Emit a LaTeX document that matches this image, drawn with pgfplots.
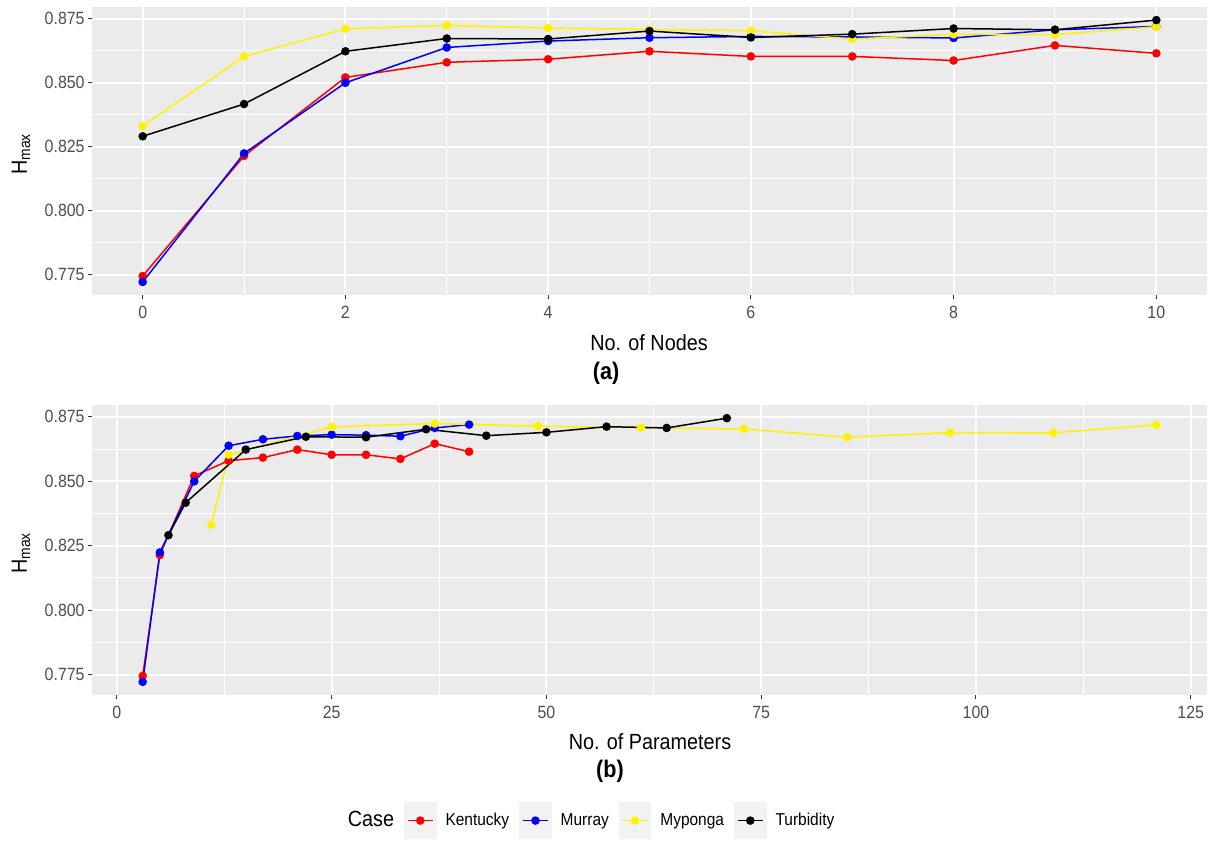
\documentclass[border=0pt]{standalone}
\usepackage{fontspec}
\setmainfont{Liberation Sans}[FakeStretch=0.9]
\usepackage{pgfplots}
\usepackage{pgfplotstable}
\pgfplotsset{compat=1.18}
\definecolor{ggbg}{HTML}{EBEBEB}
\definecolor{ggtick}{HTML}{333333}
\definecolor{gglab}{HTML}{4D4D4D}
\definecolor{ggkey}{HTML}{F2F2F2}

\pgfplotstableread{
x K M My T
0 0.7745 0.7722 0.8331 0.8291
1 0.8214 0.8224 0.8603 0.8417
2 0.8521 0.8500 0.8711 0.8623
3 0.8580 0.8638 0.8724 0.8673
4 0.8592 0.8663 0.8714 0.8671
5 0.8623 0.8676 0.8708 0.8702
6 0.8603 0.8681 0.8703 0.8677
7 0.8603 0.8679 0.8671 0.8690
8 0.8587 0.8675 0.8689 0.8712
9 0.8646 0.8707 0.8688 0.8707
10 0.8615 0.8720 0.8719 0.8745
}\nodes

\pgfplotstableread{
p y
3 0.7745
5 0.8214
9 0.8521
13 0.8580
17 0.8592
21 0.8623
25 0.8603
29 0.8603
33 0.8587
37 0.8646
41 0.8615
}\parK

\pgfplotstableread{
p y
3 0.7722
5 0.8224
9 0.8500
13 0.8638
17 0.8663
21 0.8676
25 0.8681
29 0.8679
33 0.8675
37 0.8707
41 0.8720
}\parM

\pgfplotstableread{
p y
11 0.8331
13 0.8603
25 0.8711
37 0.8724
49 0.8714
61 0.8708
73 0.8703
85 0.8671
97 0.8689
109 0.8688
121 0.8719
}\parMy

\pgfplotstableread{
p y
6 0.8291
8 0.8417
15 0.8623
22 0.8673
29 0.8671
36 0.8702
43 0.8677
50 0.8690
57 0.8712
64 0.8707
71 0.8745
}\parT

\pgfplotsset{
  ggstyle/.style={
    scale only axis,
    width=557.5pt,
    axis background/.style={fill=ggbg},
    axis line style={draw=none},
    tick align=outside,
    xtick pos=left, ytick pos=left,
    major tick length=2pt,
    minor tick length=0pt,
    tick style={ggtick, line width=0.5pt},
    grid=both,
    major grid style={white, line width=1pt},
    minor grid style={white, line width=0.5pt},
    ticklabel style={font=\fontsize{8.85}{10}\selectfont, text=gglab},
    yticklabel style={inner sep=0pt, xshift=-1.5pt},
    xticklabel style={inner sep=0pt, yshift=-3.5pt},
    ymin=0.7671, ymax=0.8796,
    ytick={0.775,0.8,0.825,0.85,0.875},
    yticklabels={0.775,0.800,0.825,0.850,0.875},
    minor ytick={0.7875,0.8125,0.8375,0.8625},
    every axis plot/.append style={line width=0.75pt, mark=*, mark size=1.75pt, mark options={solid}},
  }
}

\begin{document}
\begin{tikzpicture}
\path[use as bounding box] (0pt,0pt) rectangle (607pt,-420.5pt);

\begin{axis}[ggstyle, at={(46pt,-3.5pt)}, anchor=north west, height=144pt,
  xmin=-0.5, xmax=10.5, xtick={0,2,4,6,8,10}, xticklabels={0,2,4,6,8,10},
  minor xtick={1,3,5,7,9}]
\addplot[red] table[x=x, y=K] {\nodes};
\addplot[blue] table[x=x, y=M] {\nodes};
\addplot[yellow] table[x=x, y=My] {\nodes};
\addplot[black] table[x=x, y=T] {\nodes};
\end{axis}

\begin{axis}[ggstyle, at={(46pt,-202.5pt)}, anchor=north west, height=145pt,
  xmin=-2.9, xmax=126.9, xtick={0,25,50,75,100,125}, xticklabels={0,25,50,75,100,125},
  minor xtick={12.5,37.5,62.5,87.5,112.5},
  legend columns=5,
  legend cell align=left,
  legend image code/.code={
    \fill[ggkey] (0pt,-8.75pt) rectangle (15.5pt,8.75pt);
    \draw[mark repeat=2, mark phase=2, #1] plot coordinates {(1.5pt,0pt) (7.75pt,0pt) (14pt,0pt)};
  },
  legend style={at={(0.221,-0.433)}, anchor=west, draw=none, fill=none,
    inner sep=0pt, font=\fontsize{8.6}{10}\selectfont,
    nodes={inner sep=0pt},
    /tikz/every even column/.append style={column sep=5pt},
    /tikz/every odd column/.append style={column sep=4.5pt}}]
\addlegendimage{empty legend}
\addlegendentry{\fontsize{11}{13}\selectfont Case}
\addplot[red] table[x=p, y=y] {\parK};
\addlegendentry{Kentucky}
\addplot[blue] table[x=p, y=y] {\parM};
\addlegendentry{Murray}
\addplot[yellow] table[x=p, y=y] {\parMy};
\addlegendentry{Myponga}
\addplot[black] table[x=p, y=y] {\parT};
\addlegendentry{Turbidity}
\end{axis}

\node[font=\fontsize{11}{13}\selectfont] at (324.5pt,-171.5pt) {No. of Nodes};
\node[font=\bfseries\fontsize{12}{14}\selectfont] at (303pt,-186.5pt) {(a)};
\node[font=\fontsize{11}{13}\selectfont] at (325pt,-371pt) {No. of Parameters};
\node[font=\bfseries\fontsize{12}{14}\selectfont] at (305pt,-385.5pt) {(b)};
\node[rotate=90, font=\fontsize{11}{13}\selectfont] at (10.5pt,-77pt) {H\textsubscript{max}};
\node[rotate=90, font=\fontsize{11}{13}\selectfont] at (10.5pt,-276.5pt) {H\textsubscript{max}};
\end{tikzpicture}
\end{document}
